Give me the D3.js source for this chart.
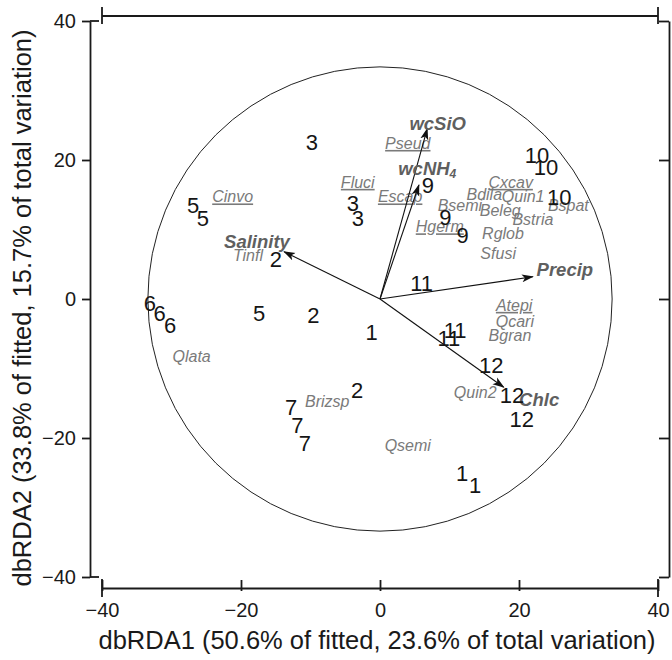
<!DOCTYPE html>
<html>
<head>
<meta charset="utf-8">
<script src="https://cdn.jsdelivr.net/npm/d3@7"></script>
<style>
  body { margin: 0; background: #fff; }
  svg text { font-family: "Liberation Sans", Arial, Helvetica, sans-serif; }
</style>
</head>
<body>
<div id="chart"></div>
<script>
// sample scores (label = month number)
var sampleLabels = ["10","10","10","3","3","3","9","9","9","5","5","2","11","2","1","11","11","2","7","7","7","6","6","6","5","12","12","12","1","1"];
var sampleX = [22.6,23.9,25.8,-9.8,-3.9,-3.2,6.9,9.4,11.9,-26.9,-25.5,-15.0,6.0,-9.6,-1.2,10.8,9.9,-3.3,-12.8,-11.9,-10.8,-33.1,-31.7,-30.2,-17.4,16.0,19.0,20.4,11.8,13.7];
var sampleY = [20.7,19.0,14.7,22.6,13.8,11.7,16.4,11.8,9.2,13.5,11.7,5.8,2.3,-2.3,-4.7,-4.5,-5.6,-13.1,-15.5,-18.1,-20.7,-0.6,-2.0,-3.7,-2.0,-9.5,-13.8,-17.3,-25.0,-26.8];

// species (overlaid), some underlined
var speciesNames = ["Cinvo","Tinfl","Pseud","Fluci","Escap","Bsemi","Hgerm","Bdila","Cxcav","Quin1","Beleg","Bstria","Bspat","Rglob","Sfusi","Atepi","Qcari","Bgran","Quin2","Qlata","Brizsp","Qsemi"];
var speciesX = [-21.2,-19.0,4.0,-3.2,2.9,11.5,8.6,15.0,18.8,20.6,17.3,22.0,27.1,17.7,17.0,19.3,19.4,18.7,13.7,-27.1,-7.6,4.0];
var speciesY = [14.7,6.3,22.4,16.8,14.7,13.5,10.4,15.1,16.8,14.7,12.8,11.4,13.5,9.5,6.5,-0.9,-3.2,-5.2,-13.5,-8.3,-14.7,-21.0];
var speciesUnderlined = ["Cinvo","Pseud","Fluci","Escap","Hgerm","Cxcav","Atepi"];

// environmental vectors
var vectorNames = ["Salinity","wcSiO","wcNH","Precip","Chlc"];
var vectorSub = ["","","4","",""];
var vectorX = [-13.8,6.8,5.6,22.0,17.8];
var vectorY = [6.8,24.5,16.4,3.2,-12.7];
var vectorLabelX = [-17.7,8.3,6.8,26.6,22.9];
var vectorLabelY = [8.2,25.3,18.8,4.3,-14.5];

var circleRadius = 33.4;
var tickValues = [-40,-20,0,20,40];
var xTitle = "dbRDA1 (50.6% of fitted, 23.6% of total variation)";
var yTitle = "dbRDA2 (33.8% of fitted, 15.7% of total variation)";

var width = 672, height = 660;
var svg = d3.select("#chart").append("svg")
    .attr("width", width)
    .attr("height", height);

var xScale = d3.scaleLinear().domain([-40, 40]).range([102, 658]);
var yScale = d3.scaleLinear().domain([-40, 40]).range([577, 21]);

var axisColor = "#1a1a1a";

svg.append("defs").append("marker")
    .attr("id", "arrow")
    .attr("viewBox", "0 -5 12 10")
    .attr("refX", 11)
    .attr("refY", 0)
    .attr("markerUnits", "userSpaceOnUse")
    .attr("markerWidth", 12)
    .attr("markerHeight", 10)
    .attr("orient", "auto")
    .append("path")
    .attr("d", "M0,-4L12,0L0,4L3,0Z")
    .attr("fill", "#111");

/* left axis */
var leftX = 90;
var yAxis = d3.axisLeft(yScale).tickValues(tickValues).tickSize(8).tickSizeOuter(0)
    .tickFormat(d => d < 0 ? "\u2212" + Math.abs(d) : d);
var gy = svg.append("g")
    .attr("transform", `translate(${leftX},0)`)
    .call(yAxis);
gy.selectAll("text").style("font-size", "20px").attr("fill", axisColor).attr("dx", "-3");
gy.selectAll("line, path").attr("stroke", axisColor).attr("stroke-width", 1.8);
gy.selectAll(".cap").data([-40, 40]).join("line")
    .attr("x1", 0).attr("x2", 9)
    .attr("y1", d => yScale(d)).attr("y2", d => yScale(d))
    .attr("stroke", axisColor).attr("stroke-width", 1.8);

/* right axis, no labels */
var rightX = 669;
var gr = svg.append("g")
    .attr("transform", `translate(${rightX},0)`)
    .call(d3.axisLeft(yScale).tickValues(tickValues).tickSize(10).tickSizeOuter(0).tickFormat(""));
gr.selectAll("line, path").attr("stroke", axisColor).attr("stroke-width", 1.8);

/* bottom axis */
var bottomY = 588;
var xAxis = d3.axisBottom(xScale).tickValues(tickValues).tickSize(-8).tickSizeOuter(0).tickPadding(15)
    .tickFormat(d => d < 0 ? "\u2212" + Math.abs(d) : d);
var gx = svg.append("g")
    .attr("transform", `translate(0,${bottomY})`)
    .call(xAxis);
gx.selectAll("text").style("font-size", "20px").attr("fill", axisColor);
gx.selectAll("line, path").attr("stroke", axisColor).attr("stroke-width", 1.8);
gx.selectAll(".tick line").attr("y2", 3).attr("y1", -8);
gx.selectAll(".cap").data([-40, 40]).join("line")
    .attr("x1", d => xScale(d)).attr("x2", d => xScale(d))
    .attr("y1", -9).attr("y2", 9)
    .attr("stroke", axisColor).attr("stroke-width", 1.8);

/* top line with end caps */
var topY = 16;
var gt = svg.append("g").attr("transform", `translate(0,${topY})`);
gt.append("line")
    .attr("x1", xScale(-40)).attr("x2", xScale(40))
    .attr("y1", 0).attr("y2", 0)
    .attr("stroke", axisColor).attr("stroke-width", 1.8);
gt.selectAll(".cap").data([-40, 40]).join("line")
    .attr("x1", d => xScale(d)).attr("x2", d => xScale(d))
    .attr("y1", -9).attr("y2", 8)
    .attr("stroke", axisColor).attr("stroke-width", 1.8);

/* axis titles */
svg.append("text")
    .attr("x", xScale(0) - 3)
    .attr("y", 649)
    .attr("text-anchor", "middle")
    .style("font-size", "25.5px")
    .attr("fill", axisColor)
    .text(xTitle);

svg.append("text")
    .attr("transform", `translate(31,${yScale(0) + 9}) rotate(-90)`)
    .attr("text-anchor", "middle")
    .style("font-size", "25.5px")
    .attr("fill", axisColor)
    .text(yTitle);

/* correlation circle */
svg.append("circle")
    .attr("cx", xScale(0))
    .attr("cy", yScale(0))
    .attr("r", xScale(circleRadius) - xScale(0))
    .attr("fill", "none")
    .attr("stroke", "#222")
    .attr("stroke-width", 1);

/* species labels */
var speciesData = speciesNames.map((n, i) => ({name: n, x: speciesX[i], y: speciesY[i]}));
svg.selectAll(".species")
    .data(speciesData)
    .join("text")
    .attr("class", "species")
    .attr("x", d => xScale(d.x))
    .attr("y", d => yScale(d.y))
    .attr("dy", "0.35em")
    .attr("text-anchor", "middle")
    .style("font-size", "16px")
    .style("font-style", "italic")
    .attr("fill", "#7a7a7a")
    .attr("text-decoration", d => speciesUnderlined.includes(d.name) ? "underline" : null)
    .text(d => d.name);

/* vectors */
var vectorData = vectorNames.map((n, i) => ({name: n, sub: vectorSub[i], x: vectorX[i], y: vectorY[i], lx: vectorLabelX[i], ly: vectorLabelY[i]}));
svg.selectAll(".vector")
    .data(vectorData)
    .join("line")
    .attr("class", "vector")
    .attr("x1", xScale(0))
    .attr("y1", yScale(0))
    .attr("x2", d => xScale(d.x))
    .attr("y2", d => yScale(d.y))
    .attr("stroke", "#111")
    .attr("stroke-width", 1.1)
    .attr("marker-end", "url(#arrow)");

var vlab = svg.selectAll(".vlabel")
    .data(vectorData)
    .join("text")
    .attr("class", "vlabel")
    .attr("x", d => xScale(d.lx))
    .attr("y", d => yScale(d.ly))
    .attr("dy", "0.35em")
    .attr("text-anchor", "middle")
    .style("font-size", "18.5px")
    .style("font-style", "italic")
    .style("font-weight", "bold")
    .attr("fill", "#5f5f5f");
vlab.append("tspan").text(d => d.name);
vlab.filter(d => d.sub).append("tspan")
    .attr("dy", "0.3em")
    .style("font-size", "12px")
    .text(d => d.sub);

/* sample numbers */
var sampleData = sampleLabels.map((l, i) => ({label: l, x: sampleX[i], y: sampleY[i]}));
svg.selectAll(".sample")
    .data(sampleData)
    .join("text")
    .attr("class", "sample")
    .attr("x", d => xScale(d.x))
    .attr("y", d => yScale(d.y))
    .attr("dy", "0.36em")
    .attr("text-anchor", "middle")
    .style("font-size", "22px")
    .attr("fill", "#151515")
    .text(d => d.label);
</script>
</body>
</html>
